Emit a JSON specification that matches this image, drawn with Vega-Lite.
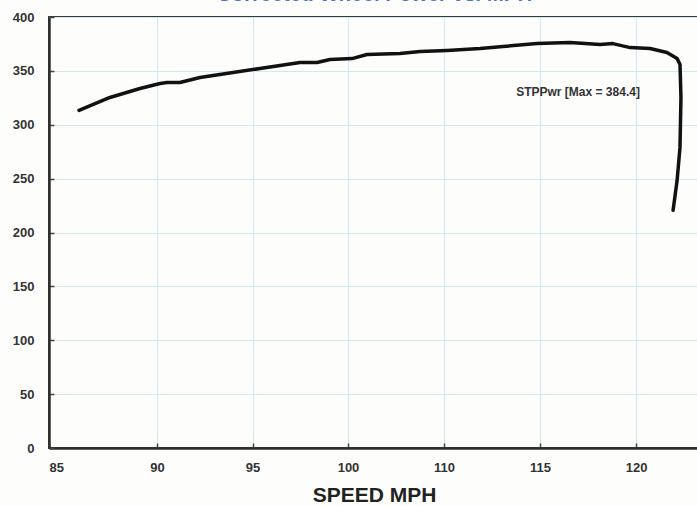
{
  "$schema": "https://vega.github.io/schema/vega-lite/v6.json",
  "autosize": {"type": "none"},
  "padding": {"left": 49, "top": 17, "right": 0, "bottom": 58},
  "width": 655,
  "height": 431,
  "background": "#fdfdfc",
  "title": {
    "text": "Corrected Wheel Power vs. MPH",
    "color": "#4177cc",
    "font": "Liberation Sans",
    "fontSize": 20.5,
    "fontWeight": "bold",
    "anchor": "middle",
    "baseline": "alphabetic",
    "offset": 4,
    "dx": -2,
    "dy": 14
  },
  "config": {
    "view": {"stroke": "#3a3a3a", "strokeWidth": 2},
    "axis": {
      "labelFont": "Liberation Sans",
      "labelFontWeight": "bold",
      "labelFontSize": 13,
      "labelColor": "#333333",
      "titleFont": "Liberation Sans",
      "domainColor": "#2e2e2e",
      "domainWidth": 2.5,
      "tickColor": "#444444",
      "tickWidth": 1.5,
      "tickSize": -5,
      "gridColor": "#cfe9ee",
      "gridWidth": 1,
      "gridOpacity": 1
    }
  },
  "layer": [
    {
      "data": {
        "values": [
          {"i": 1, "mph": 86.39, "power": 313.3},
          {"i": 2, "mph": 87.82, "power": 325.3},
          {"i": 3, "mph": 89.21, "power": 333.6},
          {"i": 4, "mph": 90.16, "power": 338.3},
          {"i": 5, "mph": 90.52, "power": 339.2},
          {"i": 6, "mph": 91.2, "power": 339.2},
          {"i": 7, "mph": 92.25, "power": 343.8},
          {"i": 8, "mph": 93.98, "power": 348.5},
          {"i": 9, "mph": 95.39, "power": 352.2},
          {"i": 10, "mph": 96.44, "power": 355.0},
          {"i": 11, "mph": 97.49, "power": 357.7},
          {"i": 12, "mph": 98.38, "power": 357.7},
          {"i": 13, "mph": 99.06, "power": 360.5},
          {"i": 14, "mph": 100.42, "power": 361.4},
          {"i": 15, "mph": 101.98, "power": 365.2},
          {"i": 16, "mph": 105.42, "power": 366.1},
          {"i": 17, "mph": 107.5, "power": 367.9},
          {"i": 18, "mph": 110.16, "power": 368.9},
          {"i": 19, "mph": 111.88, "power": 370.7},
          {"i": 20, "mph": 113.07, "power": 372.6},
          {"i": 21, "mph": 114.84, "power": 375.3},
          {"i": 22, "mph": 116.56, "power": 376.3},
          {"i": 23, "mph": 118.13, "power": 374.4},
          {"i": 24, "mph": 118.8, "power": 375.3},
          {"i": 25, "mph": 119.69, "power": 371.6},
          {"i": 26, "mph": 120.73, "power": 370.7},
          {"i": 27, "mph": 121.61, "power": 367.0},
          {"i": 28, "mph": 122.14, "power": 361.4},
          {"i": 29, "mph": 122.29, "power": 356.0},
          {"i": 30, "mph": 122.34, "power": 325.3},
          {"i": 31, "mph": 122.29, "power": 279.0},
          {"i": 32, "mph": 122.14, "power": 248.4},
          {"i": 33, "mph": 121.93, "power": 220.6}
        ]
      },
      "mark": {"type": "line", "color": "#111111", "strokeWidth": 3.5, "strokeCap": "round", "strokeJoin": "round"},
      "encoding": {
        "x": {
          "field": "mph",
          "type": "quantitative",
          "scale": {"domain": [85, 90, 100, 110, 123.54], "range": [0, 108, 299, 395, 655], "nice": false, "zero": false},
          "axis": {
            "values": [85, 90, 95, 100, 110, 115, 120],
            "title": "SPEED MPH",
            "titleFontSize": 21,
            "titleFontWeight": "bold",
            "titleColor": "#222222",
            "titlePadding": 10,
            "titleX": 325,
            "labelPadding": 18
          }
        },
        "y": {
          "field": "power",
          "type": "quantitative",
          "scale": {"domain": [0, 400], "nice": false},
          "axis": {
            "values": [0, 50, 100, 150, 200, 250, 300, 350, 400],
            "title": null,
            "labelPadding": 20
          }
        },
        "order": {"field": "i", "type": "quantitative"}
      }
    },
    {
      "data": {"values": [{"mph": 116.98, "power": 330.0, "label": "STPPwr [Max = 384.4]"}]},
      "mark": {"type": "text", "font": "Liberation Sans", "fontWeight": "bold", "fontSize": 12, "color": "#333333"},
      "encoding": {
        "x": {"field": "mph", "type": "quantitative"},
        "y": {"field": "power", "type": "quantitative"},
        "text": {"field": "label"}
      }
    }
  ]
}
